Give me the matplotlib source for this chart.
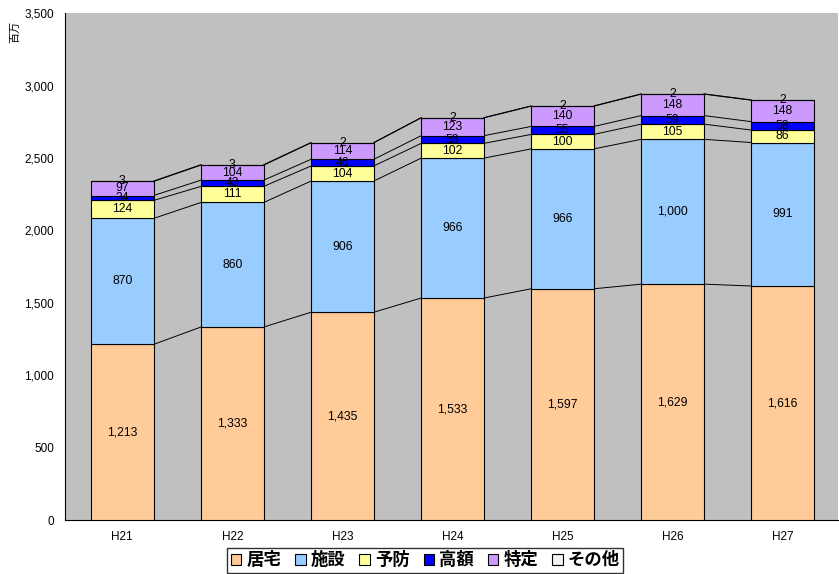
import matplotlib.pyplot as plt
import numpy as np

plt.rcParams['font.family'] = ['Noto Sans CJK JP', 'DejaVu Sans']

# data (百万)
years = ['H21', 'H22', 'H23', 'H24', 'H25', 'H26', 'H27']
kyotaku = [1213, 1333, 1435, 1533, 1597, 1629, 1616]
shisetsu = [870, 860, 906, 966, 966, 1000, 991]
yobo = [124, 111, 104, 102, 100, 105, 86]
kogaku = [34, 43, 46, 53, 55, 59, 58]
tokutei = [97, 104, 114, 123, 140, 148, 148]
sonota = [3, 3, 2, 2, 2, 2, 2]

series = [kyotaku, shisetsu, yobo, kogaku, tokutei, sonota]
names = ['居宅', '施設', '予防', '高額', '特定', 'その他']
colors = ['#FFCC99', '#99CCFF', '#FFFF99', '#0000FF', '#CC99FF', '#F2F2F2']

fig = plt.figure(figsize=(8.39, 5.74), dpi=100)
ax = fig.add_axes([0.0775, 0.094, 0.921, 0.883])
ax.set_facecolor('#C0C0C0')

x = np.arange(len(years))
w = 0.57
bottom = np.zeros(len(years))
for vals, name, c in zip(series, names, colors):
    vals = np.array(vals, dtype=float)
    ax.bar(x, vals, w, bottom=bottom, color=c, edgecolor='black',
           linewidth=0.8, label=name, zorder=3)
    top = bottom + vals
    # series lines between bars
    for i in range(len(years) - 1):
        ax.plot([x[i] + w / 2, x[i + 1] - w / 2], [top[i], bottom[i + 1] + vals[i + 1]],
                color='black', linewidth=0.7, zorder=2)
    for i, v in enumerate(vals):
        ax.text(x[i], bottom[i] + v / 2, f'{int(v):,}', ha='center', va='center',
                fontsize=8.8, family=['Liberation Sans'], zorder=4)
    bottom = top

ax.set_xlim(-0.52, 6.5)
ax.set_ylim(0, 3500)
ax.set_yticks(np.arange(0, 3501, 500))
ax.set_yticklabels([f'{v:,}' for v in range(0, 3501, 500)], fontsize=8.5,
                   family=['Liberation Sans'])
ax.set_xticks(x)
ax.set_xticklabels(years, fontsize=8.5, family=['Liberation Sans'])
ax.tick_params(axis='both', length=0, pad=8)
for s in ['top', 'right']:
    ax.spines[s].set_visible(False)
ax.spines['left'].set_color('black')
ax.spines['bottom'].set_color('black')

fig.text(0.018, 0.945, '百万', rotation=90, fontsize=8, ha='center', va='center')

leg = fig.legend(loc='center', bbox_to_anchor=(0.507, 0.024), ncol=6,
                 frameon=True, fancybox=False, edgecolor='black',
                 prop={'weight': 'bold', 'size': 12.5, 'family': ['Noto Sans CJK JP']},
                 handlelength=0.6, handleheight=0.6, handletextpad=0.3,
                 columnspacing=0.8, borderpad=0.2)
leg.get_frame().set_linewidth(1.0)

fig.savefig('out.png', dpi=100, facecolor='white')
